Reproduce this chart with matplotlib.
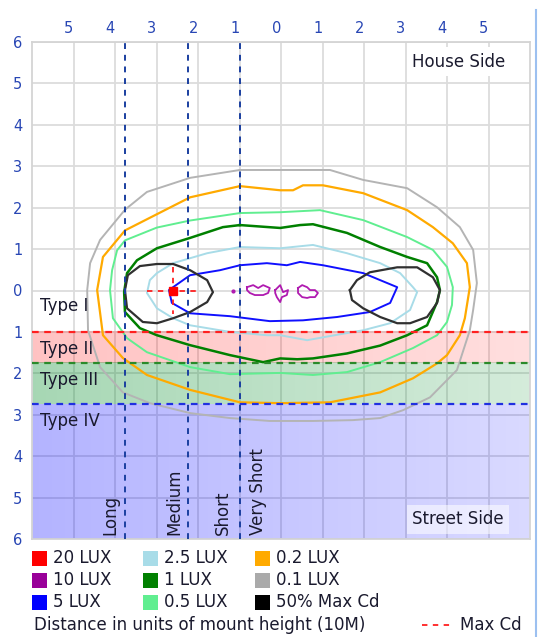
import matplotlib.pyplot as plt
import numpy as np
from matplotlib.patches import Rectangle
from matplotlib.lines import Line2D

# isolux contours, x = distance along road, y = house(+)/street(-) side, in mount heights
gray_x = [-0.99, -0.02, 1.18, 1.98, 3.04, 3.76, 4.31, 4.63, 4.72, 4.63, 4.55, 4.24, 3.59, 2.94, 2.39,
          1.73, 0.77, -0.27, -1.23, -2.19, -3.16, -3.81, -4.36, -4.65, -4.67, -4.60, -4.36, -3.76, -3.23, -2.19]
gray_y = [2.91, 2.91, 2.91, 2.67, 2.47, 2.01, 1.53, 0.98, 0.18, -0.47, -0.96, -1.92, -2.58, -2.89, -3.08,
          -3.13, -3.15, -3.15, -3.08, -2.96, -2.72, -2.46, -1.85, -0.96, 0.01, 0.66, 1.22, 1.95, 2.38, 2.72]

orange_x = [-0.99, -0.02, 0.29, 0.53, 1.01, 1.98, 3.04, 3.66, 4.14, 4.48, 4.55, 4.43, 4.31, 4.00, 3.76,
            3.18, 2.39, 1.18, -0.02, -0.99, -2.19, -3.23, -3.81, -4.29, -4.43, -4.29, -3.76, -2.19]
orange_y = [2.52, 2.42, 2.42, 2.54, 2.54, 2.35, 1.94, 1.53, 1.14, 0.66, 0.08, -0.67, -1.08, -1.56, -1.76,
            -2.12, -2.46, -2.70, -2.72, -2.70, -2.40, -2.04, -1.63, -1.08, 0.01, 0.81, 1.45, 2.25]

lgreen_x = [-0.99, -0.02, 0.94, 1.98, 3.04, 3.66, 4.00, 4.14, 4.12, 4.00, 3.76, 3.18, 2.39, 1.59,
            0.77, -0.02, -1.23, -2.19, -3.23, -3.71, -4.05, -4.12, -4.07, -3.95, -3.76, -2.99, -2.19]
lgreen_y = [1.87, 1.89, 1.94, 1.70, 1.29, 0.98, 0.57, 0.08, -0.35, -0.76, -1.08, -1.39, -1.73, -1.97,
            -2.04, -1.99, -2.02, -1.85, -1.49, -1.15, -0.67, 0.01, 0.49, 0.97, 1.21, 1.52, 1.69]

dgreen_x = [-0.99, -0.02, 0.46, 0.77, 1.59, 2.39, 3.04, 3.52, 3.76, 3.83, 3.76, 3.52, 3.04, 2.39, 1.59,
            0.77, 0.39, -0.02, -0.43, -1.23, -2.19, -2.99, -3.40, -3.76, -3.78, -3.71, -3.47, -2.99, -2.19, -1.40]
dgreen_y = [1.58, 1.51, 1.58, 1.60, 1.39, 1.05, 0.81, 0.66, 0.32, 0.01, -0.28, -0.84, -1.08, -1.33, -1.52,
            -1.64, -1.66, -1.64, -1.73, -1.56, -1.32, -1.08, -0.91, -0.52, -0.04, 0.42, 0.73, 1.02, 1.27, 1.53]

lblue_x = [-0.99, -0.02, 0.77, 1.59, 2.39, 2.87, 3.18, 3.28, 3.11, 2.63, 1.98, 1.18, 0.63, -0.02,
           -0.34, -1.23, -2.19, -2.60, -2.99, -3.23, -3.16, -2.99, -2.60, -1.78]
lblue_y = [1.05, 1.02, 1.10, 0.90, 0.66, 0.42, 0.08, -0.04, -0.47, -0.79, -0.96, -1.10, -1.20, -1.08,
           -1.08, -1.00, -0.84, -0.67, -0.43, -0.06, 0.25, 0.42, 0.66, 0.90]

blue_x = [-0.99, -0.34, 0.14, 0.46, 1.01, 1.98, 2.80, 2.63, 2.14, 1.35, 0.53, -0.27, -1.23, -2.19,
          -2.63, -2.70, -2.19, -1.47]
blue_y = [0.61, 0.66, 0.61, 0.69, 0.61, 0.42, 0.08, -0.30, -0.52, -0.64, -0.72, -0.74, -0.62, -0.55,
          -0.30, 0.01, 0.37, 0.49]

mag1_x = [-0.82, -0.67, -0.55, -0.43, -0.27, -0.31, -0.43, -0.63, -0.75, -0.82]
mag1_y = [0.08, 0.13, 0.06, 0.13, 0.06, -0.06, -0.11, -0.11, -0.06, 0.01]
mag2_x = [-0.14, -0.02, 0.05, 0.17, 0.14, 0.02, -0.02, -0.10, -0.14]
mag2_y = [0.01, 0.13, -0.04, 0.01, -0.11, -0.16, -0.28, -0.16, -0.06]
mag3_x = [0.41, 0.51, 0.63, 0.70, 0.82, 0.89, 0.82, 0.70, 0.63, 0.51, 0.41]
mag3_y = [0.06, 0.13, 0.08, 0.01, 0.01, -0.06, -0.16, -0.16, -0.18, -0.16, -0.06]
mag_dot = (-1.16, -0.01)

# 50% max candela
cdl_x = [-3.76, -3.69, -3.40, -2.99, -2.60, -2.19, -1.78, -1.64, -1.78, -2.19, -2.60, -2.99, -3.33, -3.71]
cdl_y = [0.01, 0.37, 0.59, 0.64, 0.64, 0.49, 0.25, -0.04, -0.28, -0.52, -0.67, -0.79, -0.76, -0.43]
cdr_x = [1.66, 1.83, 2.14, 2.80, 3.28, 3.66, 3.83, 3.76, 3.52, 3.11, 2.80, 2.39, 1.98, 1.71]
cdr_y = [0.01, 0.25, 0.44, 0.56, 0.56, 0.32, 0.01, -0.30, -0.64, -0.79, -0.79, -0.64, -0.43, -0.23]

max_cd = (-2.60, -0.01)

# IES classification boundaries
lat_bounds = [-1.0, -1.75, -2.75]      # Type I/II, II/III, III/IV
long_bounds = [-3.75, -2.25, -1.0]     # Long/Medium, Medium/Short, Short/Very Short

legend_labels = ['20 LUX', '10 LUX', '5 LUX', '2.5 LUX', '1 LUX', '0.5 LUX', '0.2 LUX', '0.1 LUX', '50% Max Cd']
legend_colors = ['#ff0000', '#990099', '#0000ff', '#a8dce8', '#008000', '#60ee90', '#ffaa00', '#aaaaaa', '#000000']

tick_col = '#2846b4'
txt_col = '#1a1a2e'
fs = 12

fig = plt.figure(figsize=(5.42, 6.37), dpi=100)
ax = fig.add_axes([32/542, 98/637, 498/542, 497/637])

def close(xs, ys):
    return list(xs) + [xs[0]], list(ys) + [ys[0]]

def band(y0, y1, rgb, a0, a1):
    grad = np.zeros((1, 256, 4))
    grad[..., :3] = rgb
    grad[..., 3] = np.linspace(a0, a1, 256)
    ax.imshow(grad, extent=(-6, 6, y1, y0), aspect='auto', zorder=1, interpolation='bilinear')

band(-1.0, -1.75, (1.0, 0.0, 0.0), 0.24, 0.13)
band(-1.75, -2.75, (0.0, 0.55, 0.16), 0.35, 0.17)
band(-2.75, -6.0, (0.0, 0.0, 1.0), 0.30, 0.15)

for xs, ys, c, lw in [(gray_x, gray_y, '#b4b4b4', 1.4), (orange_x, orange_y, '#ffaa00', 1.6),
                      (lgreen_x, lgreen_y, '#60ee90', 1.4), (dgreen_x, dgreen_y, '#008000', 1.8),
                      (lblue_x, lblue_y, '#a8dce8', 1.4), (blue_x, blue_y, '#1010ff', 1.4),
                      (mag1_x, mag1_y, '#b01ab0', 1.3), (mag2_x, mag2_y, '#b01ab0', 1.3),
                      (mag3_x, mag3_y, '#b01ab0', 1.3),
                      (cdl_x, cdl_y, '#303030', 1.6), (cdr_x, cdr_y, '#303030', 1.6)]:
    cx, cy = close(xs, ys)
    ax.plot(cx, cy, color=c, lw=lw, zorder=3)
ax.plot(*mag_dot, 'o', color='#b01ab0', ms=2, zorder=3)

# max candela crosshair
ax.plot([max_cd[0] - 0.63, max_cd[0] + 0.58], [max_cd[1]] * 2, ls=(0, (3, 3)), color='#ff2020', lw=1.3, zorder=4)
ax.plot([max_cd[0]] * 2, [max_cd[1] + 0.57, max_cd[1] - 0.55], ls=(0, (3, 3)), color='#ff2020', lw=1.3, zorder=4)
ax.plot(*max_cd, 's', color='#ff0000', ms=6, zorder=5)

for y, c in zip(lat_bounds, ['#ff2020', '#2a8a2a', '#2030e0']):
    ax.axhline(y, color=c, lw=1.6, ls=(0, (3, 2.5)), zorder=4)
for x in long_bounds:
    ax.axvline(x, color='#1a3fa0', lw=1.4, ls=(0, (3, 3)), zorder=4)

ax.set_xlim(-6, 6)
ax.set_ylim(-6, 6)
ax.set_xticks(range(-5, 6))
ax.set_xticklabels([str(abs(v)) for v in range(-5, 6)])
ax.set_yticks(range(-6, 7))
ax.set_yticklabels([str(abs(v)) for v in range(-6, 7)])
ax.tick_params(axis='x', top=True, bottom=False, labeltop=True, labelbottom=False, length=0, pad=4,
               labelcolor=tick_col, labelsize=10.5)
ax.tick_params(axis='y', length=0, pad=7, labelcolor=tick_col, labelsize=10.5)
for lab in ax.get_xticklabels():
    lab.set_ha('right')
ax.set_axisbelow(True)
ax.grid(True, color='#dcdcdc', lw=1.3)
for s in ax.spines.values():
    s.set_color('#d4d4d4')
    s.set_linewidth(1.3)

ax.text(-5.81, -0.38, 'Type I', fontsize=fs, color=txt_col, va='center', zorder=6)
ax.text(-5.81, -1.42, 'Type II', fontsize=fs, color=txt_col, va='center', zorder=6)
ax.text(-5.81, -2.16, 'Type III', fontsize=fs, color=txt_col, va='center', zorder=6)
ax.text(-5.81, -3.15, 'Type IV', fontsize=fs, color=txt_col, va='center', zorder=6)

for x, lab in [(-4.12, 'Long'), (-2.57, 'Medium'), (-1.40, 'Short'), (-0.55, 'Very Short')]:
    ax.text(x, -5.9, lab, rotation=90, fontsize=fs, color=txt_col, ha='center', va='bottom', zorder=6)

ax.text(3.16, 5.52, 'House Side', fontsize=fs, color=txt_col, va='center', zorder=6,
        bbox=dict(facecolor='white', edgecolor='none', pad=4))
ax.text(3.16, -5.52, 'Street Side', fontsize=fs, color=txt_col, va='center', zorder=6,
        bbox=dict(facecolor='white', alpha=0.55, edgecolor='none', pad=4))

# legend
W, H = 542, 637
col_x = [32, 143, 255]
row_y = [558, 580, 602]
for i, (lab, c) in enumerate(zip(legend_labels, legend_colors)):
    cx, ry = col_x[i // 3], row_y[i % 3]
    fig.add_artist(Rectangle((cx / W, 1 - (ry + 7.5) / H), 15 / W, 15 / H, facecolor=c,
                             edgecolor='none', transform=fig.transFigure))
    fig.text((cx + 21) / W, 1 - ry / H, lab, fontsize=fs, color=txt_col, va='center')

fig.text(34 / W, 1 - 625 / H, 'Distance in units of mount height (10M)', fontsize=fs, color=txt_col, va='center')
fig.add_artist(Line2D([422 / W, 450 / W], [1 - 625 / H] * 2, color='#ff2020', lw=1.3, ls=(0, (3, 3)),
                      transform=fig.transFigure))
fig.text(460 / W, 1 - 625 / H, 'Max Cd', fontsize=fs, color=txt_col, va='center')

fig.add_artist(Line2D([535.5 / W] * 2, [0, 1 - 10 / H], color='#9cc0f0', lw=1.5, transform=fig.transFigure))

fig.savefig('out.png', dpi=100, facecolor='white')
